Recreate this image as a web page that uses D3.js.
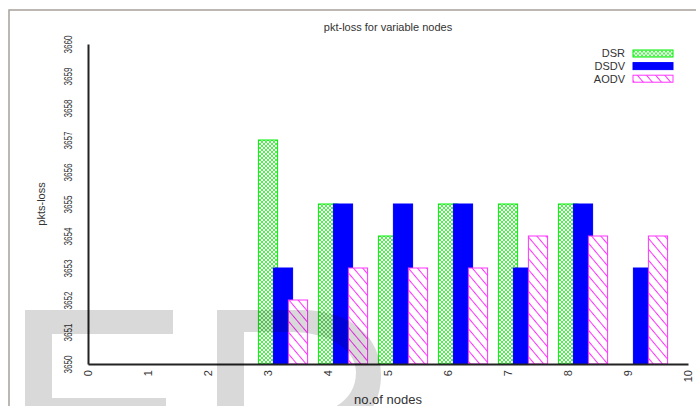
<!DOCTYPE html>
<html>
<head>
<meta charset="utf-8">
<script src="https://cdn.jsdelivr.net/npm/d3@7"></script>
<style>
  body { margin: 0; background: #fff; }
  svg { display: block; font-family: "Liberation Sans", Arial, sans-serif; }
</style>
</head>
<body>
<svg id="chart" width="696" height="406"></svg>
<script>
var nodes = [3, 4, 5, 6, 7, 8, 9];
var dsr  = [3657, 3655, 3654, 3655, 3655, 3655, 3650];
var dsdv = [3653, 3655, 3655, 3655, 3653, 3655, 3653];
var aodv = [3652, 3653, 3653, 3653, 3654, 3654, 3654];
var seriesNames = ["DSR", "DSDV", "AODV"];
var xTicks = d3.range(0, 11);
var yTicks = d3.range(3650, 3661);

var svg = d3.select("#chart");
var defs = svg.append("defs");

// gnuplot-ish fill patterns
var cross = defs.append("pattern").attr("id", "pGreen")
  .attr("patternUnits", "userSpaceOnUse").attr("width", 4).attr("height", 4);
cross.append("rect").attr("width", 4).attr("height", 4).attr("fill", "#fff");
cross.append("path").attr("d", "M0,0L4,4M4,0L0,4")
  .attr("stroke", "#22ee22").attr("stroke-width", 0.8);

var hatch = defs.append("pattern").attr("id", "pPink")
  .attr("patternUnits", "userSpaceOnUse").attr("width", 7).attr("height", 7)
  .attr("patternTransform", "rotate(-40)");
hatch.append("rect").attr("width", 7).attr("height", 7).attr("fill", "#fff");
hatch.append("line").attr("x1", 0.5).attr("y1", 0).attr("x2", 0.5).attr("y2", 7)
  .attr("stroke", "#ff33ff").attr("stroke-width", 1);

var series = [
  {name: seriesNames[0], values: dsr,  offset: 0,    fill: "url(#pGreen)", stroke: "#00ee00"},
  {name: seriesNames[1], values: dsdv, offset: 0.25, fill: "#0000ff",     stroke: "#0000ff"},
  {name: seriesNames[2], values: aodv, offset: 0.5,  fill: "url(#pPink)",  stroke: "#ff33ff"}
];
var barW = 0.32;

var x = d3.scaleLinear().domain([0, 10]).range([88, 688]);
var y = d3.scaleLinear().domain([3650, 3660]).range([364, 44]);

// outer frame (cut off at right/bottom)
svg.append("path").attr("d", "M9,406V10H696")
  .attr("fill", "none").attr("stroke", "#a8a09a").attr("stroke-width", 1.5);

// bars
series.forEach(function(s) {
  svg.append("g").selectAll("rect")
    .data(nodes.map(function(n, i) { return {n: n, v: s.values[i]}; }))
    .enter().append("rect")
    .attr("x", function(d) { return x(d.n + s.offset - barW / 2); })
    .attr("width", function(d) { return x(barW) - x(0); })
    .attr("y", function(d) { return y(d.v); })
    .attr("height", function(d) { return y(3650) - y(d.v); })
    .attr("fill", s.fill)
    .attr("stroke", s.stroke)
    .attr("stroke-width", 1)
    .style("display", function(d) { return d.v > 3650 ? null : "none"; });
});

// axes
var xAxis = svg.append("g").attr("transform", "translate(0," + y(3650) + ")")
  .call(d3.axisBottom(x).tickValues(xTicks).tickSize(0).tickSizeOuter(0));
xAxis.select(".domain").attr("stroke", "#222").attr("stroke-width", 2);
xAxis.selectAll("text")
  .attr("x", 0).attr("y", 0).attr("dy", "0.35em")
  .attr("transform", "translate(0,6) rotate(-90)")
  .attr("text-anchor", "end")
  .attr("font-size", 11).attr("fill", "#333");

var yAxis = svg.append("g").attr("transform", "translate(" + x(0) + ",0)")
  .call(d3.axisLeft(y).tickValues(yTicks).tickSize(0).tickSizeOuter(0).tickFormat(d3.format("d")));
yAxis.select(".domain").attr("stroke", "#222").attr("stroke-width", 2);
yAxis.selectAll("text")
  .attr("x", 0).attr("y", 0).attr("dy", "0.35em")
  .attr("transform", "translate(-20,0) rotate(-90)")
  .attr("text-anchor", "middle")
  .attr("font-size", 11).attr("fill", "#333")
  .attr("textLength", 18).attr("lengthAdjust", "spacingAndGlyphs");

// titles
svg.append("text").attr("x", 388).attr("y", 31).attr("text-anchor", "middle")
  .attr("font-size", 11).attr("fill", "#333").text("pkt-loss for variable nodes");
svg.append("text").attr("transform", "translate(45,204) rotate(-90)")
  .attr("text-anchor", "middle").attr("font-size", 11).attr("fill", "#333").text("pkts-loss");
svg.append("text").attr("x", 388).attr("y", 404).attr("text-anchor", "middle")
  .attr("font-size", 13).attr("fill", "#333").text("no.of nodes");

// legend
var legend = svg.append("g").selectAll("g").data(series).enter().append("g")
  .attr("transform", function(d, i) { return "translate(0," + (53.5 + i * 12.6) + ")"; });
legend.append("text").attr("x", 625).attr("dy", "0.36em").attr("text-anchor", "end")
  .attr("font-size", 11).attr("fill", "#333").text(function(d) { return d.name; });
legend.append("rect").attr("x", 633).attr("y", -3.5).attr("width", 40).attr("height", 7)
  .attr("fill", function(d) { return d.fill; })
  .attr("stroke", function(d) { return d.stroke; }).attr("stroke-width", 1);

// "E D" watermark
var wm = svg.append("g").attr("fill", "#000").attr("fill-opacity", 0.15);
wm.append("path").attr("d", "M25,310H173V334H52V398H166V406H25Z");
wm.append("path").attr("fill-rule", "evenodd").attr("d",
  "M217,310H300C355,310 381,340 381,375C381,405 365,430 320,435H217Z" +
  "M244,332H290C330,332 356,350 356,372C356,395 340,410 310,415H244Z");
</script>
</body>
</html>
